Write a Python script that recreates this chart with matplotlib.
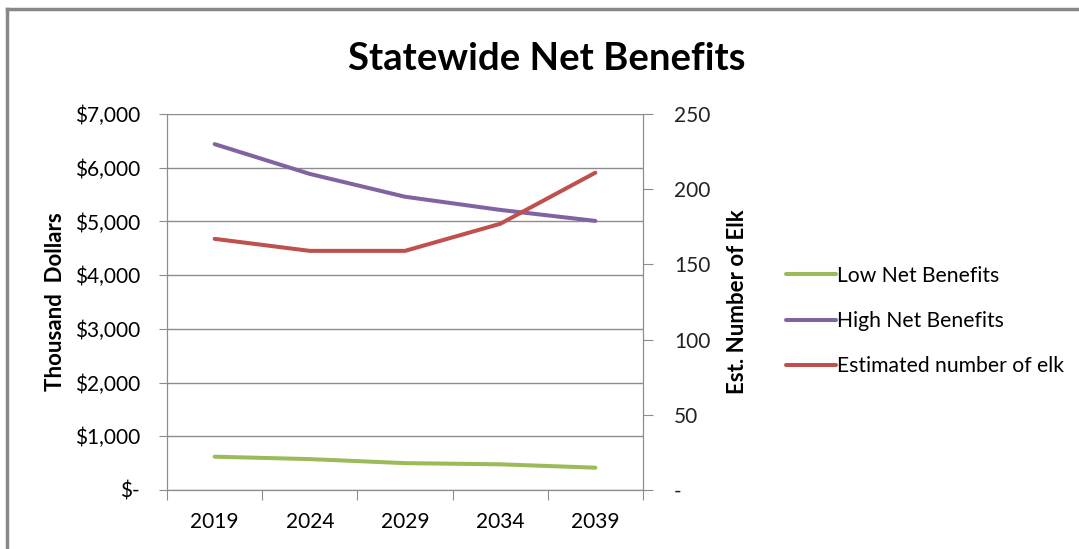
import matplotlib.pyplot as plt
from matplotlib.ticker import FixedLocator, FuncFormatter
from matplotlib.lines import Line2D

plt.rcParams['font.family'] = ['Lato', 'DejaVu Sans']

years = ["2019", "2024", "2029", "2034", "2039"]
low_net = [620, 575, 500, 478, 415]
high_net = [6440, 5885, 5460, 5215, 5010]
elk = [167, 159, 159, 177, 211]

fig = plt.figure(figsize=(10.79, 5.49), dpi=100)
ax = fig.add_axes([0.1548, 0.1075, 0.4411, 0.6848])
ax2 = ax.twinx()

x = list(range(len(years)))
l1, = ax.plot(x, low_net, color="#9BBB59", lw=2.9, solid_capstyle="round")
l2, = ax.plot(x, high_net, color="#8064A2", lw=2.9, solid_capstyle="round")
l3, = ax2.plot(x, elk, color="#C0504D", lw=2.9, solid_capstyle="round")

grey = "#8c8c8c"
ax.set_xlim(-0.5, 4.5)
ax.set_ylim(0, 7000)
ax2.set_ylim(0, 250)
ax.set_yticks(range(0, 7001, 1000))
ax2.set_yticks(range(0, 251, 50))
ax.yaxis.set_major_formatter(FuncFormatter(lambda v, p: "$-" if v == 0 else "${:,.0f}".format(v)))
ax2.yaxis.set_major_formatter(FuncFormatter(lambda v, p: "-" if v == 0 else "{:.0f}".format(v)))
ax.xaxis.set_major_locator(FixedLocator([i - 0.5 for i in range(len(years) + 1)]))
ax.xaxis.set_major_formatter(FuncFormatter(lambda v, p: ""))
ax.xaxis.set_minor_locator(FixedLocator(x))
ax.set_xticklabels(years, minor=True)
ax.tick_params(axis="x", which="major", length=7, color=grey)
ax.tick_params(axis="x", which="minor", length=0, pad=16, labelsize=15)
ax.tick_params(axis="y", length=6, color=grey, pad=13.5, labelsize=15)
ax2.tick_params(axis="y", length=7, color=grey, pad=15.5, labelsize=15)
for lab in ax2.get_yticklabels():
    lab.set_color("#222222")

ax.grid(axis="y", color=grey, lw=1)
for a in (ax, ax2):
    for s in a.spines.values():
        s.set_color(grey)
    a.spines["top"].set_visible(False)

ax.set_ylabel("Thousand  Dollars", fontsize=16, fontweight="bold", labelpad=6)
ax2.set_ylabel("Est. Number of Elk", fontsize=16, fontweight="bold", labelpad=12)

fig.text(0.507, 0.893, "Statewide Net Benefits", ha="center", va="center",
         fontsize=27.5, fontweight="bold")

fig.legend([l1, l2, l3], ["Low Net Benefits", "High Net Benefits", "Estimated number of elk"],
           loc="center left", bbox_to_anchor=(0.711, 0.415), frameon=False, fontsize=15.2,
           handlelength=2.35, handletextpad=0.05, labelspacing=1.2)

# chart frame (top and left edges)
fig.add_artist(Line2D([0.0065, 1], [0.984, 0.984], color="#888888", lw=2.5, transform=fig.transFigure))
fig.add_artist(Line2D([0.0065, 0.0065], [0, 0.984], color="#888888", lw=2.5, transform=fig.transFigure))

fig.savefig("out.png", dpi=100)
